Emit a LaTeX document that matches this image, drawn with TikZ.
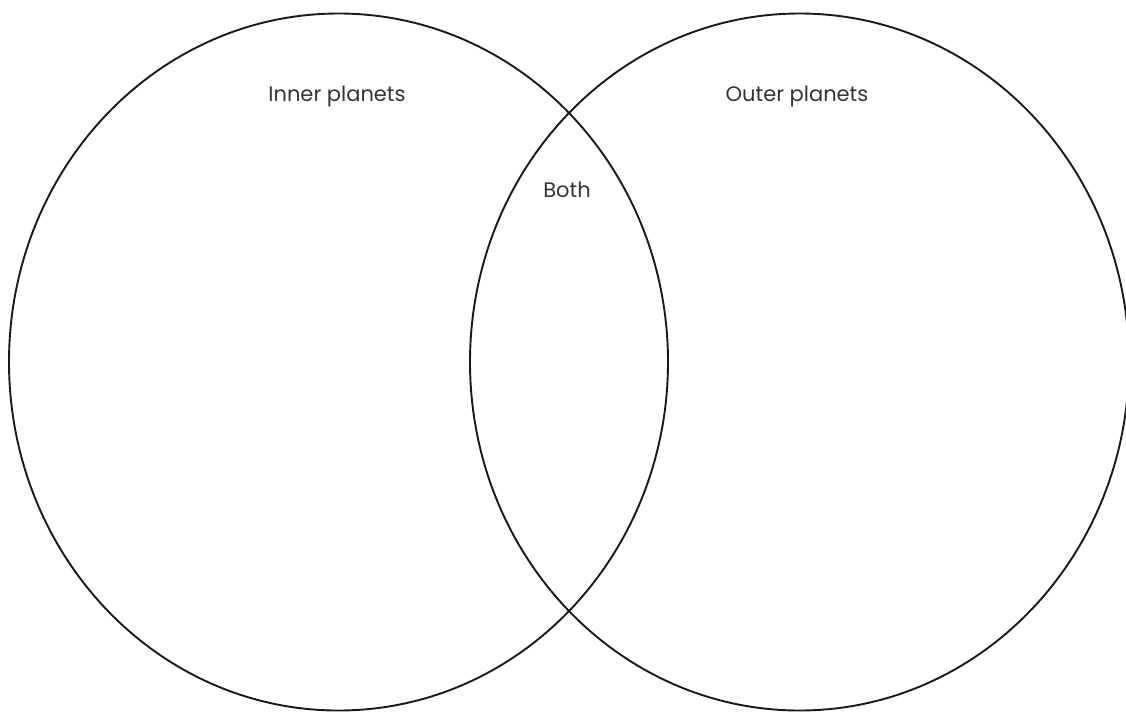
\documentclass[tikz,border=0pt]{standalone}
\usepackage{fontspec}
\setmainfont{Poppins}
\usepackage{tikz}
\usetikzlibrary{shapes.geometric, positioning}
\tikzset{
  setring/.style={ellipse, draw=black!90, line width=1.9pt, inner sep=0pt,
                  minimum width=659pt, minimum height=697pt},
  setlabel/.style={anchor=base, inner sep=0pt, text=black!80,
                   font=\fontsize{21}{24}\selectfont},
}
\begin{document}
\begin{tikzpicture}[x=1pt, y=-1pt]
  \useasboundingbox (0,0) rectangle (1126,713);

  \node[setring] (inner) at (338.5,362) {};
  \node[setring] (outer) at (799.5,362) {};

  \node[setlabel] (innerlab) at (337,101) {Inner planets};
  \node[setlabel] (outerlab) at (797,101) {Outer planets};
  \node[setlabel] (bothlab) at (567,197) {Both};
\end{tikzpicture}
\end{document}
